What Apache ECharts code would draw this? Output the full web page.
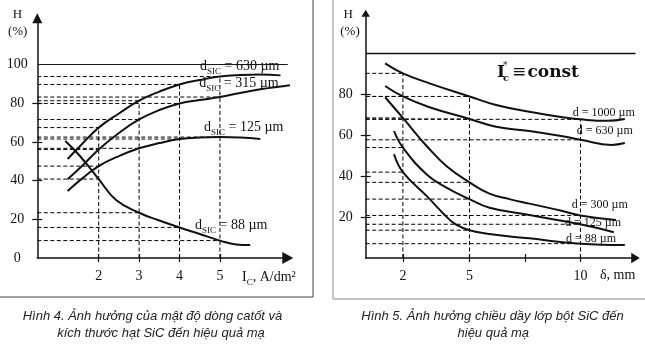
<!DOCTYPE html>
<html><head><meta charset="utf-8">
<script src="https://cdn.jsdelivr.net/npm/echarts@6/dist/echarts.min.js"></script>
<style>html,body{margin:0;padding:0;background:#fff}#c{width:645px;height:356px}</style>
</head><body><div id="c"></div>
<script>
// ---------- Figure 4 : H (%) vs cathode current density I_C (A/dm2) ----------
const fig4_I_630 = [1.23, 1.6, 2, 2.5, 3, 3.5, 4, 4.5, 5, 5.5, 6, 6.5];
const fig4_H_630 = [51.2, 59.2, 67.4, 74.7, 81.3, 86.0, 89.7, 92.0, 93.8, 94.6, 94.9, 94.4];
const fig4_I_315 = [1.23, 1.6, 2, 2.5, 3, 3.5, 4, 4.5, 5, 5.5, 6, 6.5, 6.78];
const fig4_H_315 = [40.7, 47.8, 56.1, 64.6, 71.6, 76.5, 79.9, 81.7, 83.2, 85.3, 87.2, 88.6, 89.4];
const fig4_I_125 = [1.23, 1.6, 2, 2.5, 3, 3.5, 4, 4.5, 5, 5.5, 6];
const fig4_H_125 = [34.6, 41.3, 47.5, 52.7, 56.7, 59.4, 61.5, 62.3, 62.5, 62.3, 61.5];
const fig4_I_88  = [1.17, 1.4, 1.69, 2, 2.43, 3, 3.5, 4, 4.5, 5, 5.4, 5.75];
const fig4_H_88  = [60.5, 55.8, 48.9, 40.8, 30.0, 23.4, 19.4, 15.8, 12.4, 9.0, 7.0, 6.7];
const fig4_readings = [2, 3, 4, 5];
const fig4_xTickLabels = [2, 3, 4, 5];
const fig4_yTickLabels = [0, 20, 40, 60, 80, 100];
const fig4_yTicks = [20, 40, 60, 80];
const fig4_limit = 100;

// ---------- Figure 5 : H (%) vs SiC layer thickness delta (mm) ----------
const fig5_d_1000 = [1.2, 2, 3.2, 5, 6.2, 7.7, 9.2, 10, 11.2, 12];
const fig5_H_1000 = [95.2, 90.3, 85.4, 79.0, 74.8, 71.5, 68.8, 67.8, 67.1, 68.0];
const fig5_d_630  = [1.2, 2, 3.2, 5, 6.2, 7.7, 9.2, 10, 11.4, 12];
const fig5_H_630  = [84.1, 79.0, 73.7, 68.0, 64.2, 62.1, 59.5, 57.8, 55.3, 56.2];
const fig5_d_300  = [1.2, 2, 3.1, 4, 5, 5.9, 6.8, 7.7, 9.1, 10, 11.6];
const fig5_H_300  = [78.6, 68.5, 54.4, 44.6, 37.0, 31.5, 28.8, 26.6, 23.2, 20.8, 18.6];
const fig5_d_125  = [1.6, 2, 3.1, 4, 5, 5.9, 7.7, 10, 11.5];
const fig5_H_125  = [62.1, 54.0, 40.6, 34.2, 28.8, 24.6, 21.0, 16.5, 12.6];
const fig5_d_88   = [1.6, 2, 3.1, 4, 4.4, 5, 5.9, 7.7, 10, 12];
const fig5_H_88   = [50.7, 42.0, 30.0, 19.8, 16.3, 13.6, 11.7, 9.6, 7.0, 6.4];
const fig5_readings = [2, 5, 10];
const fig5_xTicks = [2, 5, 7.5, 10];
const fig5_xTickLabels = [2, 5, 10];
const fig5_yTicks = [20, 40, 60, 80];
const fig5_limit = 100;

// ---------- layout ----------
const SERIF = 'Liberation Serif';
const INK = '#111';
const X4 = {min: 0.48, max: 6.68};
const Y4 = {min: 0, max: 123.9};
const X5 = {min: 0.324, max: 12.48};
const Y5 = {min: 0, max: 119.66};

const chart = echarts.init(document.getElementById('c'), null, {renderer: 'canvas', width: 645, height: 356});

function pairs(xs, ys) { return xs.map((x, i) => [x, ys[i]]); }
function at(xs, ys, x) { return ys[xs.indexOf(x)]; }

const series = [];
function addCurve(xs, ys, xi, yi) {
  series.push({type: 'line', xAxisIndex: xi, yAxisIndex: yi, data: pairs(xs, ys), smooth: 0.45,
    symbol: 'none', clip: false, silent: true, z: 5,
    lineStyle: {color: INK, width: 2}});
}
const dashStyle = {color: '#000', width: 1, type: [4, 2.5]};
function addSeg(a, b, xi, yi, style) {
  series.push({type: 'line', xAxisIndex: xi, yAxisIndex: yi, data: [a, b], symbol: 'none',
    clip: false, silent: true, z: 3, lineStyle: style});
}

const fig4 = [[fig4_I_630, fig4_H_630], [fig4_I_315, fig4_H_315], [fig4_I_125, fig4_H_125], [fig4_I_88, fig4_H_88]];
const fig5 = [[fig5_d_1000, fig5_H_1000], [fig5_d_630, fig5_H_630], [fig5_d_300, fig5_H_300], [fig5_d_125, fig5_H_125], [fig5_d_88, fig5_H_88]];

// reference (dashed) lines from curves at the read-off abscissas
fig4_readings.forEach(r => {
  let top = 0;
  fig4.forEach(([xs, ys]) => { const h = at(xs, ys, r); top = Math.max(top, h); addSeg([X4.min, h], [r, h], 0, 0, dashStyle); });
  addSeg([r, Y4.min], [r, top], 0, 0, dashStyle);
});
fig5_readings.forEach(r => {
  let top = 0;
  fig5.forEach(([xs, ys]) => { const h = at(xs, ys, r); top = Math.max(top, h); addSeg([X5.min, h], [r, h], 2, 2, dashStyle); });
  addSeg([r, Y5.min], [r, top], 2, 2, dashStyle);
});
addSeg([X4.min, fig4_limit], [X4.max, fig4_limit], 0, 0, {color: INK, width: 1, type: 'solid'});
addSeg([X5.min, fig5_limit], [X5.max, fig5_limit], 2, 2, {color: INK, width: 1.5, type: 'solid'});
fig4.forEach(([xs, ys]) => addCurve(xs, ys, 0, 0));
fig5.forEach(([xs, ys]) => addCurve(xs, ys, 2, 2));

function mainX(grid, ext, ticks, labels, arrow) {
  return {gridIndex: grid, type: 'value', min: ext.min, max: ext.max, position: 'bottom',
    axisLine: {show: true, onZero: false, symbol: ['none', 'triangle'], symbolSize: arrow, lineStyle: {color: INK, width: 1.5}},
    axisTick: {show: true, customValues: ticks, length: 4, lineStyle: {color: INK, width: 1.2}},
    axisLabel: {customValues: labels, margin: 11, fontFamily: SERIF, fontSize: 14, color: INK},
    splitLine: {show: false}};
}
function innerX(grid, ext, ticks) {
  return {gridIndex: grid, type: 'value', min: ext.min, max: ext.max, position: 'bottom',
    axisLine: {show: false, onZero: false}, axisTick: {show: true, inside: true, customValues: ticks, length: 4, lineStyle: {color: INK, width: 1.2}},
    axisLabel: {show: false}, splitLine: {show: false}};
}
function mainY(grid, ext, ticks, labels, arrow) {
  return {gridIndex: grid, type: 'value', min: ext.min, max: ext.max, position: 'left',
    axisLine: {show: true, onZero: false, symbol: ['none', 'triangle'], symbolSize: arrow, lineStyle: {color: INK, width: 1.5}},
    axisTick: {show: true, customValues: ticks, length: 5, lineStyle: {color: INK, width: 1.2}},
    axisLabel: {customValues: labels, margin: 20, align: 'center', fontFamily: SERIF, fontSize: 14, color: INK},
    splitLine: {show: false}};
}
function innerY(grid, ext, ticks) {
  return {gridIndex: grid, type: 'value', min: ext.min, max: ext.max, position: 'left',
    axisLine: {show: false, onZero: false}, axisTick: {show: true, inside: true, customValues: ticks, length: 5, lineStyle: {color: INK, width: 1.2}},
    axisLabel: {show: false}, splitLine: {show: false}};
}

const sub = {fontFamily: SERIF, fontSize: 9, fill: INK, verticalAlign: 'bottom', lineHeight: 8};
const main14 = {fontFamily: SERIF, fontSize: 14, fill: INK, lineHeight: 20};
function dLabel(x, y, size) {
  return {type: 'text', x: x, y: y, silent: true, z: 20, style: {text: '{a|d}{s|SIC}{a| = ' + size + ' µm}',
    rich: {a: main14, s: sub}, verticalAlign: 'middle', align: 'left'}};
}
function plain(x, y, txt, size, align) {
  return {type: 'text', x: x, y: y, silent: true, z: 20, style: {text: txt, fontFamily: SERIF, fontSize: size, fill: INK,
    align: align || 'left', verticalAlign: 'middle'}};
}
function caption(x, y, txt) {
  return {type: 'text', x: x, y: y, silent: true, style: {text: txt, fontFamily: 'Liberation Sans', fontStyle: 'italic',
    fontSize: 13, fill: '#222', align: 'center', verticalAlign: 'middle'}};
}

chart.setOption({
  animation: false,
  backgroundColor: '#fff',
  grid: [
    {left: 37.3, top: 18.3, width: 250.5, height: 239.7, outerBoundsMode: 'none', containLabel: false},
    {left: 365.7, top: 13.3, width: 269.8, height: 244.7, outerBoundsMode: 'none', containLabel: false}
  ],
  xAxis: [
    mainX(0, X4, fig4_xTickLabels, fig4_xTickLabels, [12, 11]),
    innerX(0, X4, fig4_xTickLabels),
    mainX(1, X5, fig5_xTicks, fig5_xTickLabels, [10.7, 8.5]),
    innerX(1, X5, fig5_xTicks)
  ],
  yAxis: [
    mainY(0, Y4, fig4_yTicks, fig4_yTickLabels, [10, 10]),
    innerY(0, Y4, fig4_yTicks),
    mainY(1, Y5, fig5_yTicks, fig5_yTicks, [8.5, 7]),
    innerY(1, Y5, fig5_yTicks)
  ],
  series: series,
  graphic: {elements: [
    {type: 'rect', shape: {x: -2, y: -2, width: 315, height: 299}, style: {fill: 'none', stroke: '#444', lineWidth: 1}, silent: true},
    {type: 'rect', shape: {x: 333, y: -2, width: 320, height: 301}, style: {fill: 'none', stroke: '#888', lineWidth: 1}, silent: true},
    plain(17.5, 15, 'H', 13, 'center'),
    plain(17.7, 32, '(%)', 13, 'center'),
    plain(348.3, 15, 'H', 13, 'center'),
    plain(350, 31.7, '(%)', 13, 'center'),
    dLabel(200, 66, '630'),
    dLabel(199.3, 83, '315'),
    dLabel(204, 127.5, '125'),
    dLabel(195, 225.5, '88'),
    {type: 'text', x: 242, y: 277, silent: true, style: {text: '{a|I}{s|C}{a|, A/dm²}', rich: {a: main14, s: sub}, verticalAlign: 'middle', align: 'left'}},
    plain(600, 275, 'δ, mm', 14),
    plain(572.7, 112.7, 'd = 1000 µm', 12),
    plain(576.7, 131, 'd = 630 µm', 12),
    plain(571.7, 205, 'd = 300 µm', 12),
    plain(565, 223.3, 'd = 125 µm', 12),
    plain(566, 239.3, 'd = 88 µm', 12),
    {type: 'text', x: 497, y: 73, silent: true, style: {text: 'I', fontFamily: 'DejaVu Serif', fontWeight: 'bold', fontSize: 17, fill: INK, verticalAlign: 'middle'}},
    {type: 'text', x: 503, y: 66, silent: true, style: {text: '*', fontFamily: 'DejaVu Serif', fontSize: 9, fill: INK, verticalAlign: 'middle'}},
    {type: 'text', x: 503, y: 78.5, silent: true, style: {text: 'c', fontFamily: 'DejaVu Serif', fontWeight: 'bold', fontSize: 10, fill: INK, verticalAlign: 'middle'}},
    {type: 'text', x: 512, y: 73, silent: true, style: {text: '≡', fontFamily: 'DejaVu Serif', fontSize: 17, fill: INK, verticalAlign: 'middle'}},
    {type: 'text', x: 527.5, y: 73, silent: true, style: {text: 'const', fontFamily: 'DejaVu Serif', fontWeight: 'bold', fontSize: 17, fill: INK, verticalAlign: 'middle'}},
    caption(152.5, 316.7, 'Hình 4. Ảnh hưởng của mật độ dòng catốt và'),
    caption(161, 333, 'kích thước hạt SiC đến hiệu quả mạ'),
    caption(492.5, 316.7, 'Hình 5. Ảnh hưởng chiều dầy lớp bột SiC đến'),
    caption(493.3, 333.3, 'hiệu quả mạ')
  ]}
});
</script>
</body></html>
